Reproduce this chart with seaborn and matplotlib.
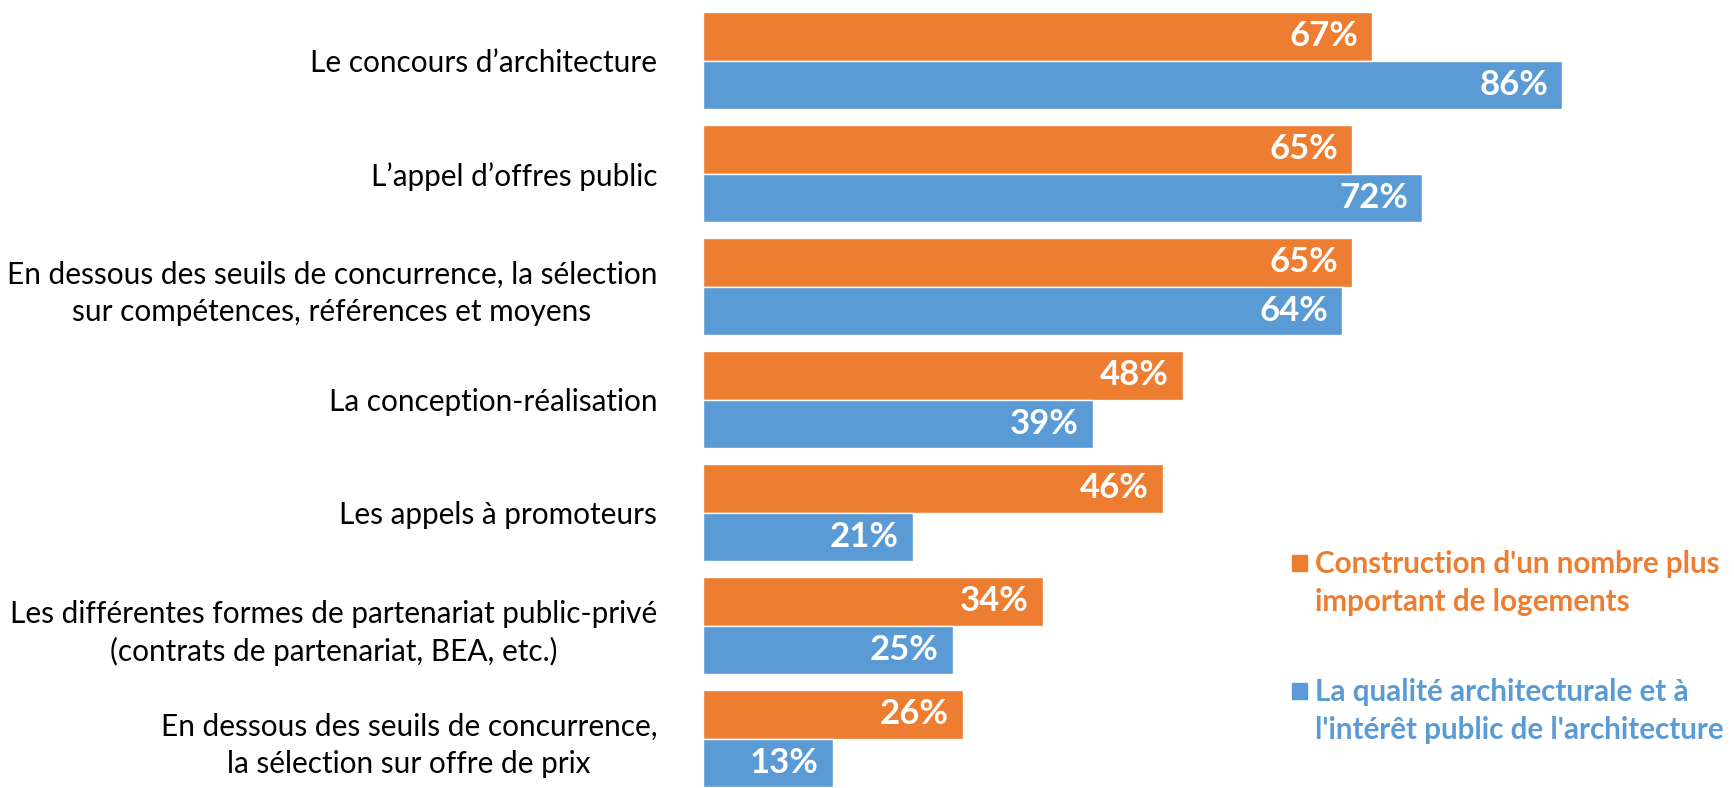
import pandas as pd
import matplotlib
matplotlib.use("Agg")
import matplotlib.pyplot as plt
import seaborn as sns

categories = [
    "Le concours d\u2019architecture",
    "L\u2019appel d\u2019offres public",
    "En dessous des seuils de concurrence, la sélection\nsur compétences, références et moyens",
    "La conception-réalisation",
    "Les appels à promoteurs",
    "Les différentes formes de partenariat public-privé\n(contrats de partenariat, BEA, etc.)",
    "En dessous des seuils de concurrence,\nla sélection sur offre de prix",
]
series_names = [
    "Construction d'un nombre plus\nimportant de logements",
    "La qualité architecturale et à\nl'intérêt public de l'architecture",
]
logements = [67, 65, 65, 48, 46, 34, 26]
qualite = [86, 72, 64, 39, 21, 25, 13]
colors = ["#ED7D31", "#5B9BD5"]

df = pd.DataFrame({
    "cat": categories * 2,
    "serie": [series_names[0]] * 7 + [series_names[1]] * 7,
    "pct": logements + qualite,
})

sns.set_theme(style="white")
plt.rcParams["font.family"] = ["Lato", "DejaVu Sans"]

fig = plt.figure(figsize=(17.34, 7.88), dpi=100)
ax = fig.add_axes([703 / 1734, 0, 1 - 703 / 1734, 1])

sns.barplot(data=df, x="pct", y="cat", hue="serie", palette=colors,
            orient="h", width=0.862, saturation=1, legend=False, ax=ax)

ax.set_xlim(0, 103.2)
ax.set_ylim(6.436, -0.537)
ax.set_xlabel("")
ax.set_ylabel("")
ax.set_xticks([])
for s in ax.spines.values():
    s.set_visible(False)

ax.tick_params(axis="y", length=0, pad=33)
for lbl in ax.get_yticklabels():
    lbl.set_fontsize(21.4)
    lbl.set_color("black")
    lbl.set_multialignment("center")
    lbl.set_linespacing(1.38)

# value labels inside the bar ends
for cont in ax.containers:
    for p in cont.patches:
        w = p.get_width()
        ax.annotate(f"{w:.0f}%", (w, p.get_y() + p.get_height() / 2),
                    xytext=(-10, 0), textcoords="offset points",
                    ha="right", va="center", color="white",
                    fontsize=25, fontweight="bold")

# legend drawn by hand so the square sits on the first line
leg_y = [563 / 788, 691 / 788]
for name, c, y in zip(series_names, colors, leg_y):
    fig.patches.append(plt.Rectangle((1292 / 1734, 1 - (y * 788 + 8) / 788), 15 / 1734, 16 / 788,
                                     transform=fig.transFigure, color=c))
    fig.text(1315 / 1734, 1 - y + 13 / 788, name, color=c, fontsize=21.3, fontweight="bold",
             ha="left", va="top", linespacing=1.45)

fig.savefig("out.png", dpi=100)
